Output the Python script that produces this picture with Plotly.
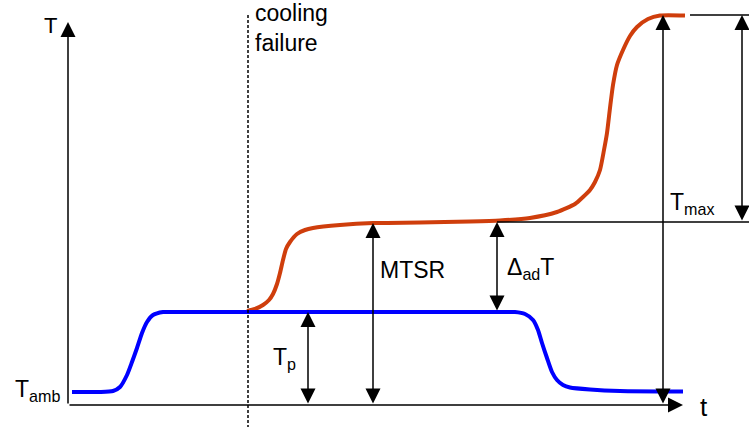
import plotly.graph_objects as go

# ---- data (time t, temperature T, arbitrary schematic units) ----
blue_t = [4, 32, 45, 52, 59, 64, 69, 74, 79, 85, 95, 105, 200, 300, 400, 437, 447, 457, 465, 470, 474, 479, 484, 489,
          495, 502, 522, 552, 615]
blue_T = [13, 13, 14, 18, 30, 43, 57, 72, 83, 90, 93, 93, 93, 93, 93, 93, 93, 91, 85, 75, 62, 47, 33, 25,
          20, 17.5, 15.5, 14, 13.5]

red_t = [179, 187, 195, 201, 205, 209, 212, 215, 218, 222, 229, 237, 245, 272, 305, 352, 402, 432, 462, 489,
         507, 515, 522, 527, 532, 536, 539, 542, 545, 549, 555, 562, 569, 580, 592, 617]
red_T = [94, 96, 100, 105, 111, 121, 132, 145, 156, 163, 171, 175, 177, 180, 182, 182.5, 183.5, 184.5, 187, 193,
         201, 208, 215, 223, 235, 255, 272, 297, 320, 340, 355, 369, 378, 386, 389.5, 389.5]

T_amb = 13
T_p = 93
MTSR = 182
T_dad_top = 183
T_max = 390
t_fail = 180
t_Tp = 240
t_MTSR = 305
t_dad = 429
t_Tmax = 595
t_right = 674
t_axis_end = 615
T_axis_end = 383

FONT = "Liberation Sans, Arial, sans-serif"
BLUE = "#0000ff"
RED = "#cf3e0c"

fig = go.Figure()
fig.add_trace(go.Scatter(x=red_t, y=red_T, mode="lines", line=dict(color=RED, width=4, shape="spline", smoothing=0.6),
                         hoverinfo="skip"))
fig.add_trace(go.Scatter(x=blue_t, y=blue_T, mode="lines", line=dict(color=BLUE, width=4, shape="spline", smoothing=0.6),
                         hoverinfo="skip"))

shapes = [
    # cooling failure dashed line
    dict(type="line", x0=t_fail, x1=t_fail, y0=T_max, y1=-25, line=dict(color="black", width=1.5, dash="3px,2px")),
    # horizontal reference lines
    dict(type="line", x0=t_dad, x1=690, y0=T_dad_top, y1=T_dad_top, line=dict(color="black", width=1.5)),
    dict(type="line", x0=622, x1=690, y0=T_max, y1=T_max, line=dict(color="black", width=1.5)),
]

def arrow(x, y, ax, ay, both=True):
    return dict(x=x, y=y, ax=ax, ay=ay, xref="x", yref="y", axref="x", ayref="y", text="",
                showarrow=True, arrowhead=2, arrowsize=2, arrowwidth=1.5, arrowcolor="black",
                arrowside="end+start" if both else "end", startarrowhead=2, startarrowsize=2,
                standoff=0, startstandoff=0)

annotations = [
    arrow(0, T_axis_end, 0, 0, both=False),
    arrow(t_axis_end, 0, 0, 0, both=False),
    arrow(t_Tp, T_p, t_Tp, 0),
    arrow(t_MTSR, MTSR, t_MTSR, 0),
    arrow(t_dad, T_dad_top, t_dad, T_p),
    arrow(t_Tmax, T_max, t_Tmax, 0),
    arrow(t_right, T_max, t_right, T_dad_top),
]

def label(text, x, y, xanchor="center", size=23, align="center"):
    return dict(x=x, y=y, xref="x", yref="y", text=text, showarrow=False, xanchor=xanchor, yanchor="middle",
                align=align, font=dict(family=FONT, size=size, color="black"))

annotations += [
    label("T", -18, 380, size=22),
    label("t", 636, -2, size=26),
    label("cooling<br>failure", 185, 377, xanchor="left", size=23, align="left"),
    label("T<sub>amb</sub>", -6, 15, xanchor="right"),
    label("T<sub>p</sub>", 216, 47),
    label("MTSR", 344, 135),
    label("Δ<sub>ad</sub>T", 462, 137),
    label("T<sub>max</sub>", 600, 202, xanchor="left"),
]

fig.update_layout(
    width=749, height=427, margin=dict(l=0, r=0, t=0, b=0),
    paper_bgcolor="white", plot_bgcolor="white", showlegend=False,
    xaxis=dict(range=[-68, 681], visible=False, fixedrange=True),
    yaxis=dict(range=[-22, 405], visible=False, fixedrange=True),
    shapes=shapes, annotations=annotations,
)

fig.write_html("out.html", config={"displayModeBar": False, "staticPlot": True},
               post_script="document.body.style.margin='0px';document.body.style.overflow='hidden';")
